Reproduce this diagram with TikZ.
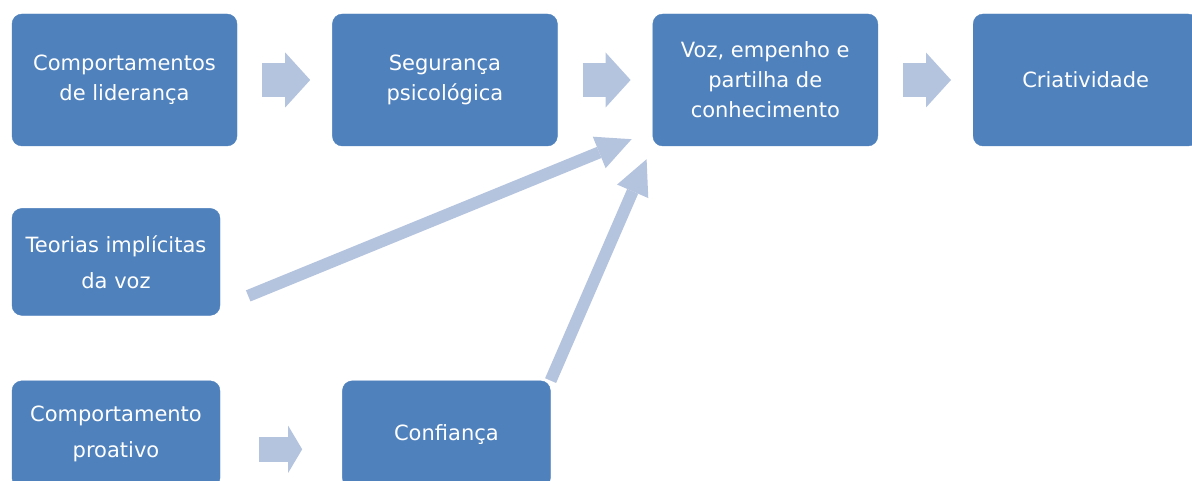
\documentclass[tikz,border=0pt]{standalone}
\usepackage{fontspec}
\setmainfont{DejaVu Sans}
\usepackage{tikz}
\usetikzlibrary{arrows.meta, positioning}

\definecolor{boxblue}{RGB}{79,129,189}
\definecolor{arrowblue}{RGB}{180,195,222}

\begin{document}
\begin{tikzpicture}[
  x=1pt, y=-1pt,
  block/.style = {fill=boxblue, draw=boxblue, rounded corners=10pt, text=white, align=center,
                  minimum width=225pt, minimum height=132pt, inner sep=0pt,
                  font=\fontsize{21}{30}\selectfont},
  small/.style = {block, minimum width=208pt, minimum height=107pt,
                  font=\fontsize{21}{36}\selectfont},
  bigarrow/.style = {draw=arrowblue, line width=34pt,
                     -{Triangle[length=25pt, width=55pt, line width=0pt]},
                     shorten <=25pt, shorten >=22pt},
  smallarrow/.style = {draw=arrowblue, line width=25pt,
                       -{Triangle[length=14pt, width=47pt, line width=0pt]},
                       shorten <=39pt, shorten >=40pt},
  link/.style = {draw=arrowblue, line width=12pt,
                 -{Triangle[length=35pt, width=34pt, line width=0pt]}},
  node distance=95pt
]
  \useasboundingbox (0,0) rectangle (1192,481);

  % Top row
  \node[block] (lead) at (124.5,80) {Comportamentos\\de liderança};
  \node[block, right=of lead] (safety) {Segurança\\psicológica};
  \node[block, right=of safety] (voice) {Voz, empenho e\\partilha de\\conhecimento};
  \node[block, right=of voice] (creative) {Criatividade};

  % Left column
  \node[small, below=62pt of lead.south west, anchor=north west] (theories) {Teorias implícitas\\da voz};
  \node[small, below=65pt of theories.south west, anchor=north west] (proactive) {Comportamento\\proativo};
  \node[small, right=122pt of proactive] (trust) {Confiança};

  \draw[bigarrow] (lead) -- (safety);
  \draw[bigarrow] (safety) -- (voice);
  \draw[bigarrow] (voice) -- (creative);
  \draw[smallarrow] ([yshift=-15pt]proactive.east) -- ([yshift=-15pt]trust.west);

  \draw[link] ([xshift=28pt, yshift=-34pt]theories.east) -- ([xshift=-21pt, yshift=7pt]voice.south west);
  \draw[link] (trust.north east) -- ([xshift=-6pt, yshift=-13pt]voice.south west);

\end{tikzpicture}
\end{document}
